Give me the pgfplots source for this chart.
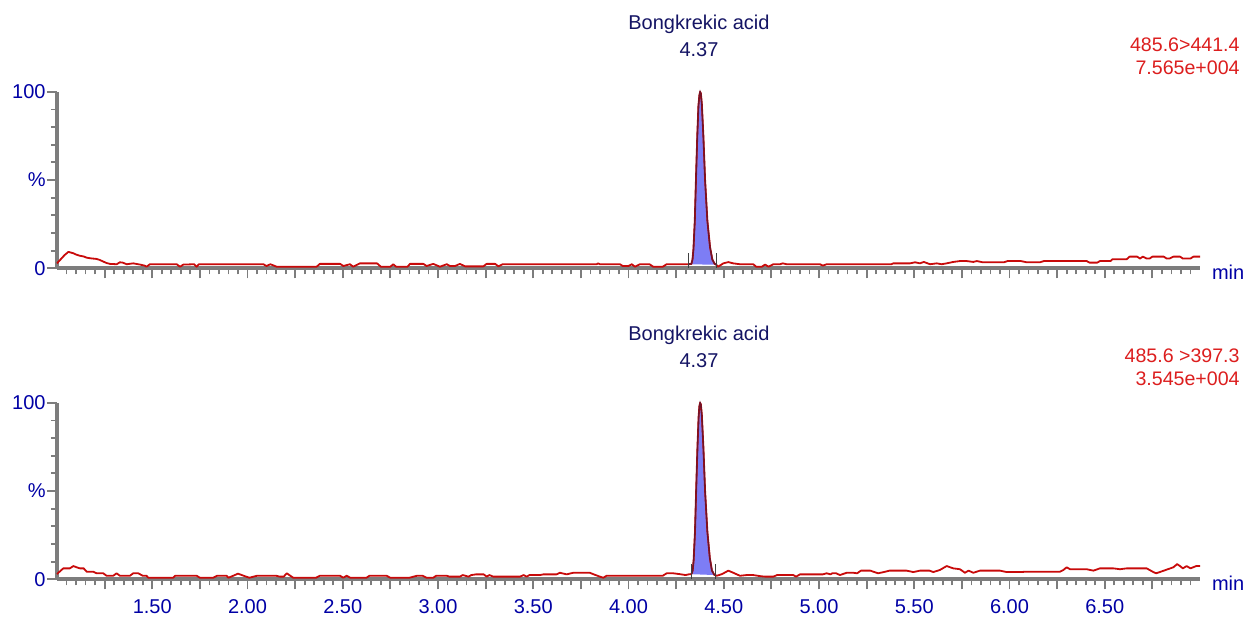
\documentclass[border=0pt]{standalone}
\usepackage{fontspec}
\setmainfont{Liberation Sans}
\usepackage{pgfplots}
\usepackage{pgfplotstable}
\pgfplotsset{compat=1.18}

\definecolor{trace}{RGB}{200,10,10}
\definecolor{peakfill}{RGB}{125,125,245}
\definecolor{peakline}{RGB}{110,20,40}
\definecolor{axisgray}{RGB}{125,125,125}
\definecolor{tickblue}{RGB}{0,0,165}
\definecolor{titlenavy}{RGB}{20,20,100}
\definecolor{labelred}{RGB}{220,30,30}

% top trace, 485.6>441.4
\pgfplotstableread{
t v
1.000 2.8
1.016 4.7
1.040 7.5
1.060 9.3
1.086 8.5
1.100 7.8
1.120 7.1
1.140 6.7
1.156 6.0
1.180 5.6
1.208 5.3
1.225 4.7
1.243 3.8
1.260 3.0
1.278 2.5
1.313 2.3
1.330 3.4
1.345 3.2
1.366 2.3
1.400 2.8
1.436 2.1
1.460 1.5
1.470 0.9
1.488 2.3
1.628 2.3
1.646 0.9
1.663 2.1
1.720 2.3
1.733 0.9
1.745 2.3
2.083 2.3
2.100 1.3
2.120 2.3
2.153 0.9
2.363 0.9
2.380 2.5
2.486 2.5
2.503 1.3
2.538 2.3
2.555 0.9
2.590 2.8
2.680 2.8
2.700 0.9
2.750 0.9
2.765 2.3
2.780 0.9
2.840 0.9
2.853 2.5
2.923 2.5
2.940 1.3
2.975 2.5
3.010 0.9
3.046 2.3
3.063 1.3
3.090 1.3
3.115 2.5
3.142 1.1
3.238 1.1
3.255 2.5
3.300 2.5
3.317 1.1
3.340 2.3
3.833 2.3
3.840 2.8
3.850 2.3
3.955 2.3
3.970 1.3
4.000 1.3
4.017 2.3
4.034 0.9
4.060 2.3
4.110 2.3
4.130 0.9
4.180 0.9
4.200 2.3
4.314 2.3
4.330 2.5
4.336 5
4.341 11
4.348 27
4.354 50
4.361 75
4.367 92
4.372 98
4.376 100
4.380 99
4.385 93
4.393 75
4.402 50
4.414 27
4.428 12
4.440 5
4.452 2.6
4.461 2.0
4.470 0.9
4.498 2.8
4.524 3.5
4.550 2.8
4.585 2.3
4.655 2.3
4.670 0.9
4.700 0.9
4.717 2.1
4.735 0.9
4.760 2.3
4.795 2.3
4.810 2.8
4.830 2.3
5.005 2.3
5.020 1.5
5.040 2.3
5.380 2.3
5.390 2.8
5.478 2.8
5.504 3.4
5.530 2.8
5.550 3.6
5.583 2.3
5.618 2.8
5.644 2.3
5.670 2.8
5.705 3.6
5.740 4.1
5.775 4.1
5.810 3.6
5.828 4.1
5.860 3.4
5.970 3.4
5.990 4.1
6.060 4.1
6.090 3.4
6.160 3.4
6.180 4.1
6.405 4.1
6.420 3.2
6.460 3.2
6.475 4.1
6.530 4.1
6.540 5.1
6.615 5.1
6.630 6.6
6.670 6.6
6.685 5.5
6.700 6.6
6.720 5.5
6.735 5.5
6.750 6.6
6.810 6.6
6.825 5.5
6.840 5.5
6.860 6.6
6.895 6.6
6.910 5.5
6.950 5.5
6.965 6.6
7.000 6.6
}\toptrace

\pgfplotstableread{
t v
4.314 2.3
4.330 2.5
4.336 5
4.341 11
4.348 27
4.354 50
4.361 75
4.367 92
4.372 98
4.376 100
4.380 99
4.385 93
4.393 75
4.402 50
4.414 27
4.428 12
4.440 5
4.452 2.6
4.461 2.0
}\toppeak

% bottom trace, 485.6 >397.3
\pgfplotstableread{
t v
1.000 3.0
1.033 6.2
1.068 6.2
1.086 7.5
1.103 6.8
1.120 6.2
1.140 6.2
1.156 4.3
1.190 4.3
1.208 3.4
1.243 3.4
1.260 2.0
1.295 2.0
1.313 3.4
1.330 2.0
1.383 2.0
1.400 3.4
1.427 3.4
1.450 2.0
1.470 2.0
1.479 0.9
1.610 0.9
1.620 2.0
1.733 2.0
1.750 0.9
1.820 0.9
1.840 2.0
1.890 2.0
1.900 0.9
1.925 2.0
1.950 3.2
1.980 2.0
2.010 0.9
2.050 2.0
2.150 2.0
2.170 1.5
2.190 1.5
2.206 3.4
2.240 0.9
2.360 0.9
2.380 2.0
2.486 2.0
2.503 0.9
2.520 2.0
2.540 0.9
2.625 0.9
2.640 2.0
2.730 2.0
2.750 0.9
2.850 0.9
2.890 2.0
2.920 2.0
2.940 0.9
2.975 0.9
2.990 2.0
3.046 2.0
3.060 1.5
3.115 1.5
3.130 2.4
3.160 1.5
3.175 2.4
3.200 2.8
3.240 2.8
3.255 1.5
3.270 2.4
3.290 1.5
3.430 1.5
3.450 2.4
3.465 1.5
3.480 2.4
3.535 2.4
3.553 2.8
3.623 2.8
3.640 3.7
3.675 2.8
3.710 3.7
3.797 3.7
3.815 2.9
3.850 1.5
3.868 0.9
3.885 2.0
4.180 2.0
4.200 3.4
4.235 3.4
4.270 2.9
4.300 2.4
4.320 2.9
4.330 2.9
4.337 5
4.342 11
4.349 27
4.355 50
4.362 75
4.368 92
4.372 98
4.376 100
4.380 99
4.385 93
4.393 75
4.402 50
4.414 27
4.427 12
4.438 5
4.450 2.6
4.455 2.4
4.463 2.0
4.490 2.9
4.524 4.9
4.550 3.7
4.585 2.0
4.620 2.4
4.655 2.4
4.690 1.8
4.717 1.5
4.760 1.5
4.780 2.4
4.865 2.4
4.880 1.5
4.900 2.8
5.020 2.8
5.040 3.4
5.060 2.8
5.070 3.4
5.090 3.4
5.110 2.4
5.145 3.7
5.180 3.7
5.200 3.4
5.220 4.9
5.270 4.9
5.285 4.3
5.310 3.4
5.340 4.1
5.370 4.9
5.460 4.9
5.495 4.1
5.530 4.9
5.580 4.9
5.600 4.1
5.635 5.3
5.670 7.5
5.705 6.2
5.740 5.7
5.766 3.7
5.785 4.9
5.810 3.7
5.845 4.9
5.950 4.9
5.985 4.1
6.055 4.1
6.090 4.3
6.265 4.3
6.283 5.3
6.300 6.8
6.318 5.7
6.405 5.7
6.440 4.9
6.475 6.2
6.545 6.2
6.580 5.7
6.615 6.2
6.720 6.2
6.755 4.1
6.770 3.4
6.810 4.9
6.860 6.8
6.880 8.6
6.895 7.5
6.910 6.2
6.930 7.5
6.950 6.2
6.980 7.5
7.000 7.5
}\bottrace

\pgfplotstableread{
t v
4.330 2.9
4.337 5
4.342 11
4.349 27
4.355 50
4.362 75
4.368 92
4.372 98
4.376 100
4.380 99
4.385 93
4.393 75
4.402 50
4.414 27
4.427 12
4.438 5
4.450 2.6
4.455 2.4
}\botpeak

\pgfplotsset{
  chrom/.style={
    scale only axis,
    width=571.5pt,
    height=88.25pt,
    xmin=1, xmax=7,
    ymin=0, ymax=100,
    axis x line*=bottom,
    axis y line*=left,
    axis line style={axisgray, line width=2.1pt},
    tick align=outside,
    major tick length=5pt,
    minor tick length=3pt,
    every tick/.style={axisgray, line width=0.9pt},
    xtick={1.5,2,2.5,3,3.5,4,4.5,5,5.5,6,6.5},
    minor xtick={1.05,1.1,1.15,1.2,1.3,1.35,1.4,1.45,1.55,1.6,1.65,1.7,1.8,1.85,1.9,1.95,
      2.05,2.1,2.15,2.2,2.3,2.35,2.4,2.45,2.55,2.6,2.65,2.7,2.8,2.85,2.9,2.95,
      3.05,3.1,3.15,3.2,3.3,3.35,3.4,3.45,3.55,3.6,3.65,3.7,3.8,3.85,3.9,3.95,
      4.05,4.1,4.15,4.2,4.3,4.35,4.4,4.45,4.55,4.6,4.65,4.7,4.8,4.85,4.9,4.95,
      5.05,5.1,5.15,5.2,5.3,5.35,5.4,5.45,5.55,5.6,5.65,5.7,5.8,5.85,5.9,5.95,
      6.05,6.1,6.15,6.2,6.3,6.35,6.4,6.45,6.55,6.6,6.65,6.7,6.8,6.85,6.9,6.95},
    extra x ticks={1.25,1.75,2.25,2.75,3.25,3.75,4.25,4.75,5.25,5.75,6.25,6.75},
    extra x tick labels={},
    extra x tick style={major tick length=5pt},
    ytick={0,50,100},
    yticklabels={0,\%,100},
    minor ytick={10,20,30,40,60,70,80,90},
    tick label style={font=\fontsize{10}{12}\selectfont, text=tickblue},
    yticklabel style={inner xsep=0.5pt},
    xticklabel style={yshift=-1.5pt},
    /pgf/number format/assume math mode=true,
    clip=false,
  },
  tracestyle/.style={trace, line width=0.9pt, line join=round},
}
\tikzset{lbl/.style={font=\fontsize{9.8}{11}\selectfont}}

\begin{document}
\begin{tikzpicture}
\path[use as bounding box] (-28.5pt,-175.35pt) rectangle (595pt,134.15pt);

\begin{axis}[chrom, at={(0,0)}, xticklabels={}]
  \addplot[fill=peakfill, draw=none] table[x=t, y=v] {\toppeak} -- cycle;
  \addplot[tracestyle] table[x=t, y=v] {\toptrace};
  \addplot[peakline, line width=0.7pt] table[x=t, y=v] {\toppeak};
  \addplot[black!75, line width=0.5pt] coordinates {(4.314,0) (4.314,8.5)};
  \addplot[black!75, line width=0.5pt] coordinates {(4.461,0) (4.461,8.5)};
  \node[anchor=base, text=titlenavy, font=\fontsize{10}{12}\selectfont, yshift=31pt] at (axis cs:4.37,100) {Bongkrekic acid};
  \node[anchor=base, text=titlenavy, font=\fontsize{10}{12}\selectfont, yshift=17.6pt] at (axis cs:4.37,100) {4.37};
  \node[anchor=base east, text=labelred, lbl, inner sep=0pt, xshift=20pt, yshift=20.2pt] at (rel axis cs:1,1) {485.6>441.4};
  \node[anchor=base east, text=labelred, lbl, inner sep=0pt, xshift=20pt, yshift=8.5pt] at (rel axis cs:1,1) {7.565e+004};
  \node[anchor=base west, text=tickblue, font=\fontsize{10}{12}\selectfont, inner sep=0pt, xshift=5.8pt, yshift=-5.4pt] at (rel axis cs:1,0) {min};
\end{axis}

\begin{axis}[chrom, at={(0,-155.5pt)},
  xticklabels={1.50,2.00,2.50,3.00,3.50,4.00,4.50,5.00,5.50,6.00,6.50}]
  \addplot[fill=peakfill, draw=none] table[x=t, y=v] {\botpeak} -- cycle;
  \addplot[tracestyle] table[x=t, y=v] {\bottrace};
  \addplot[peakline, line width=0.7pt] table[x=t, y=v] {\botpeak};
  \addplot[black!75, line width=0.5pt] coordinates {(4.330,0) (4.330,8.6)};
  \addplot[black!75, line width=0.5pt] coordinates {(4.455,0) (4.455,8.6)};
  \node[anchor=base, text=titlenavy, font=\fontsize{10}{12}\selectfont, yshift=31pt] at (axis cs:4.37,100) {Bongkrekic acid};
  \node[anchor=base, text=titlenavy, font=\fontsize{10}{12}\selectfont, yshift=17.6pt] at (axis cs:4.37,100) {4.37};
  \node[anchor=base east, text=labelred, lbl, inner sep=0pt, xshift=20pt, yshift=20.2pt] at (rel axis cs:1,1) {485.6 >397.3};
  \node[anchor=base east, text=labelred, lbl, inner sep=0pt, xshift=20pt, yshift=8.5pt] at (rel axis cs:1,1) {3.545e+004};
  \node[anchor=base west, text=tickblue, font=\fontsize{10}{12}\selectfont, inner sep=0pt, xshift=5.8pt, yshift=-5.4pt] at (rel axis cs:1,0) {min};
\end{axis}
\end{tikzpicture}
\end{document}
